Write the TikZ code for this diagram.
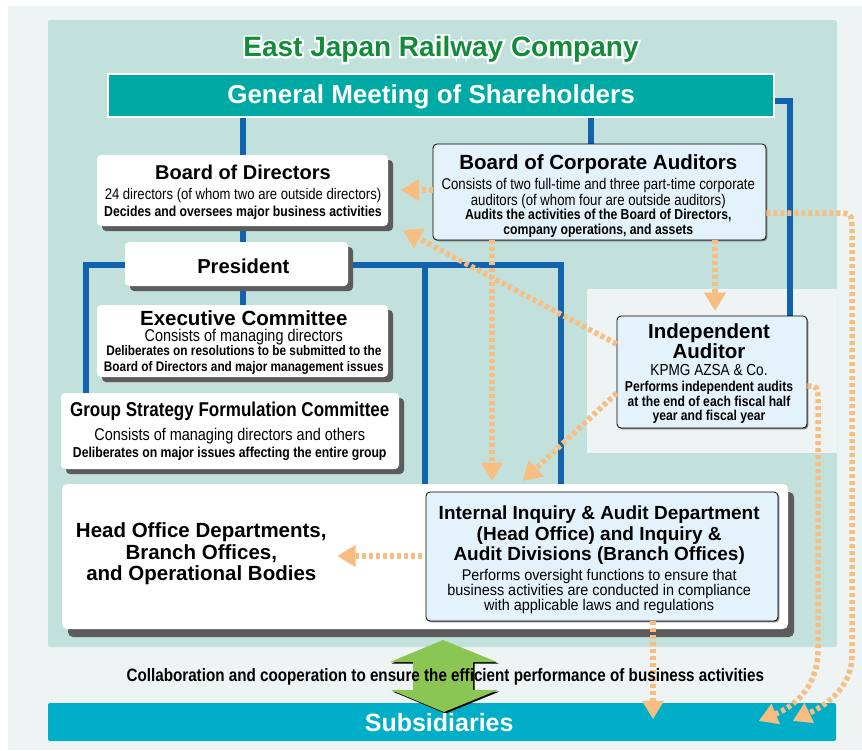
\documentclass[tikz,border=0pt]{standalone}
\usepackage{fontspec}
\setmainfont{Liberation Sans}
\newfontfamily\condfam[FakeStretch=0.85]{Liberation Sans}
\newfontfamily\midfam[FakeStretch=0.93]{Liberation Sans}
\newfontfamily\halofam[FakeBold=14]{Liberation Sans}
\usetikzlibrary{arrows.meta,calc,shadows}

% fixed line pitch inside multi-line labels
\newcommand\tightlines{\lineskiplimit -50pt\relax\lineskip 0pt\relax}

\definecolor{outerbg}{RGB}{238,244,243}
\definecolor{panelteal}{RGB}{194,225,220}
\definecolor{gmsteal}{RGB}{0,170,164}
\definecolor{subsblue}{RGB}{0,174,199}
\definecolor{linkblue}{RGB}{17,99,174}
\definecolor{dotorange}{RGB}{248,189,128}
\definecolor{titlegreen}{RGB}{18,140,58}
\definecolor{arrowgreen}{RGB}{139,198,84}
\definecolor{boxblue}{RGB}{228,242,251}
\definecolor{shadowgray}{RGB}{92,92,92}

\pgfdeclarelayer{back}
\pgfdeclarelayer{links}
\pgfsetlayers{back,links,main}

\tikzset{
  whitebox/.style={fill=white, draw=none, rounded corners=4pt, inner sep=0pt,
    drop shadow={shadow xshift=5pt, shadow yshift=-5pt, fill=shadowgray, opacity=1}},
  auditbox/.style={fill=boxblue, draw=black, line width=0.8pt, rounded corners=4pt, inner sep=0pt,
    drop shadow={shadow xshift=1.3pt, shadow yshift=-1.3pt, fill=gray, opacity=1}},
  blueline/.style={draw=linkblue, line width=6pt},
  oarrow/.style={draw=dotorange, line width=5.5pt, dash pattern=on 4pt off 3pt,
    -{Triangle[length=18pt, width=22pt, line width=0.1pt, fill=dotorange]}},
  hd/.style={anchor=base, inner sep=0pt, font=\fontsize{#1}{#1}\selectfont\bfseries},
  cr/.style={anchor=base, inner sep=0pt, font=\fontsize{#1}{#1}\selectfont\condfam},
  cb/.style={anchor=base, inner sep=0pt, font=\fontsize{#1}{#1}\selectfont\condfam\bfseries},
}

\begin{document}
\begin{tikzpicture}[x=1pt, y=-1pt]
\useasboundingbox (0,0) rectangle (862,750);

% background panels
\begin{pgfonlayer}{back}
\fill[white] (0,0) rectangle (862,750);
\fill[outerbg] (8,6) rectangle (862,750);
\fill[panelteal, rounded corners=2pt] (48,20) rectangle (837,647);
\fill[outerbg] (587,289) rectangle (837,453);
\end{pgfonlayer}

% company title with a white halo
\node[anchor=base, inner sep=0pt, font=\fontsize{28}{28}\selectfont\halofam\bfseries, text=white] (titlehalo) at (441,56.5) {East Japan Railway Company};
\node[hd=28, text=titlegreen] (title) at (441,56.5) {East Japan Railway Company};

% boxes
\node[fill=gmsteal, draw=white, line width=1.5pt, minimum width=666pt, minimum height=43pt, inner sep=0pt] (gms) at (441,95.5) {};
\node[hd=26, text=white] (gmstext) at (431,103.3) {General Meeting of Shareholders};

\node[fill=subsblue, rounded corners=2pt, minimum width=788pt, minimum height=38pt, inner sep=0pt] (subs) at (442,722) {};

\node[whitebox, minimum width=291pt, minimum height=71pt] (bod) at (242.5,190.5) {};
\node[whitebox, minimum width=223pt, minimum height=44pt] (pres) at (236.5,264) {};
\node[whitebox, minimum width=291pt, minimum height=72pt] (exec) at (242.5,341) {};
\node[whitebox, minimum width=338pt, minimum height=76pt] (gs) at (230,431) {};
\node[fill=white, rounded corners=5pt, inner sep=0pt, minimum width=726pt, minimum height=145pt,
  drop shadow={shadow xshift=6pt, shadow yshift=-8pt, fill=shadowgray, opacity=1}] (big) at (425,556.5) {};
\node[auditbox, minimum width=333pt, minimum height=96pt] (bca) at (599.5,192) {};
\node[auditbox, minimum width=190pt, minimum height=112pt] (ia) at (712,372) {};
\node[auditbox, minimum width=352pt, minimum height=129pt] (int) at (602,556.5) {};

% reporting lines, kept behind the boxes
\begin{pgfonlayer}{links}
\draw[blueline] (bod.north |- gms.south) -- (bod.north);
\draw[blueline] (gms.south -| 591,0) -- (bca.north -| 591,0);
\draw[blueline] (gms.east |- 0,100.5) -| (ia.north -| 790,0);
\draw[blueline] (bod.south -| 243,0) -- (pres.north -| 243,0);
\draw[blueline] (pres.south -| 243,0) -- (exec.north -| 243,0);
\draw[blueline] (pres.west |- 0,264.5) -| (gs.north -| 86,0);
\draw[blueline] (pres.east |- 0,264.5) -| (big.north -| 561,0);
\draw[blueline] (pres.east -| 425,0) -- (big.north -| 425,0);
\end{pgfonlayer}

% box texts
\node[hd=20] (bodt1) at (243,179.3) {Board of Directors};
\node[cr=15.4] (bodt2) at (243,199) {24 directors (of whom two are outside directors)};
\node[cb=14.4] (bodt3) at (243,216) {Decides and oversees major business activities};

\node[hd=20.2] (prest) at (243.3,273.3) {President};

\node[hd=20.5] (exect1) at (243.8,325) {Executive Committee};
\node[cr=17] (exect2) at (243.8,341) {Consists of managing directors};
\node[cb=13.9] (exect3) at (243.8,355.7) {Deliberates on resolutions to be submitted to the};
\node[cb=13.9] (exect4) at (243.8,371.7) {Board of Directors and major management issues};

\node[cb=20] (gst1) at (229.7,416.7) {Group Strategy Formulation Committee};
\node[cr=17] (gst2) at (229.7,440.7) {Consists of managing directors and others};
\node[cb=14.4] (gst3) at (229.7,457.3) {Deliberates on major issues affecting the entire group};

\node[hd=20.5] (bcat1) at (598.3,169.3) {Board of Corporate Auditors};
\node[cr=15.5] (bcat2) at (598.3,189) {Consists of two full-time and three part-time corporate};
\node[cr=15.5] (bcat3) at (598.3,205) {auditors (of whom four are outside auditors)};
\node[cb=14.4] (bcat4) at (598.3,219.3) {Audits the activities of the Board of Directors,};
\node[cb=14.4] (bcat5) at (598.3,234.3) {company operations, and assets};

% multi-line labels are placed by the baseline of their last line
\node[anchor=base, inner sep=0pt, align=center,
  font={\fontsize{20.5}{20.5}\selectfont\bfseries\tightlines}] (iat1) at (709,358.5) {Independent\\Auditor};
\node[cr=16] (iat3) at (709,375.7) {KPMG AZSA \& Co.};
\node[cb=14.3] (iat4) at (709,391.3) {Performs independent audits};
\node[cb=14.3] (iat5) at (709,406) {at the end of each fiscal half};
\node[cb=14.3] (iat6) at (709,420) {year and fiscal year};

\node[hd=19] (intt1) at (599.2,519.3) {Internal Inquiry \& Audit Department};
\node[hd=19] (intt2) at (599.2,540) {(Head Office) and Inquiry \&};
\node[hd=19] (intt3) at (599.2,560) {Audit Divisions (Branch Offices)};
\node[anchor=base, inner sep=0pt, align=center,
  font={\fontsize{15.5}{15}\selectfont\midfam\tightlines}] (intt4) at (599.2,610.5)
  {Performs oversight functions to ensure that\\business activities are conducted in compliance\\with applicable laws and regulations};

\node[hd=20.5] (hot1) at (201.3,537.7) {Head Office Departments,};
\node[hd=20.5] (hot2) at (201.3,559.3) {Branch Offices,};
\node[hd=20.5] (hot3) at (201.3,580) {and Operational Bodies};

% audit and oversight flows
\draw[oarrow, shorten >=13pt] (bca.west |- 0,190) -- (bod.east |- 0,190);
\draw[oarrow] (ia.west |- 0,344) -- ($(bod.south east)+(15,4)$);
\draw[oarrow, shorten >=3pt] (bca.south -| 492,0) -- (big.north -| 492,0);
\draw[oarrow, shorten >=5pt] (bca.south -| 715,0) -- (ia.north -| 715,0);
\draw[oarrow] (ia.west |- 0,393) -- ($(big.north -| 523,0)+(0,-3)$);
\draw[oarrow, shorten <=4pt] (int.west |- 0,556) -- ++(-88,0);
\draw[oarrow] (int.south -| 653,0) -- ($(subs.north -| 653,0)+(0,16)$);
\draw[oarrow] (ia.east |- 0,386) .. controls (818,386) .. (818,404) -- (818,650)
  .. controls (818,690) and (790,708) .. ($(subs.north)+(317,18)$);
\draw[oarrow] (bca.east |- 0,213) -- (834,213) .. controls (852,213) .. (852,231) -- (852,655)
  .. controls (852,690) and (822,707) .. ($(subs.north)+(351,18)$);

% collaboration arrow between the company and its subsidiaries
\fill[black] (444,641.5) -- (498.5,663.5) -- (474.5,663.5) -- (474.5,691.5) -- (499.5,691.5) -- (445.5,713.5)
  -- (392.5,691.5) -- (414.5,691.5) -- (414.5,663.5) -- (391.5,663.5) -- cycle;
\fill[arrowgreen] (443,640) -- (497,662) -- (473,662) -- (473,690) -- (498,690) -- (444,712)
  -- (391,690) -- (413,690) -- (413,662) -- (390,662) -- cycle;
\node[cb=17.9] (collab) at (445.3,681) {Collaboration and cooperation to ensure the efficient performance of business activities};

\node[hd=25, text=white] (substext) at (439.2,731) {Subsidiaries};
\end{tikzpicture}
\end{document}
